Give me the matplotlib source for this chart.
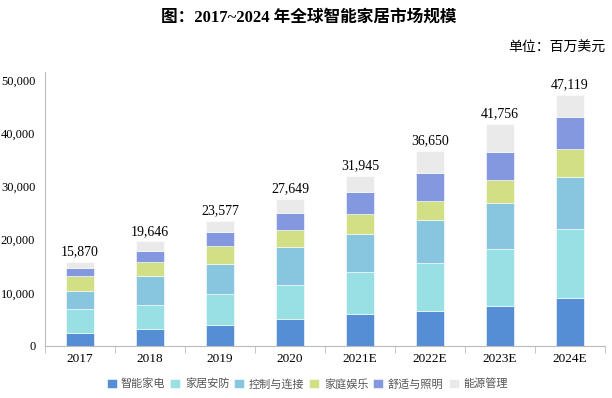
import numpy as np
import matplotlib.pyplot as plt

plt.rcParams['font.family'] = ['Liberation Serif', 'Noto Sans CJK SC']

years = ['2017', '2018', '2019', '2020', '2021E', '2022E', '2023E', '2024E']
totals = [15870, 19646, 23577, 27649, 31945, 36650, 41756, 47119]

appliance = [2400, 3260, 4010, 5010, 6020, 6580, 7520, 8960]
security = [4500, 4450, 5760, 6460, 7950, 9020, 10710, 13030]
control = [3450, 5450, 5580, 7140, 7020, 8080, 8710, 9840]
entertain = [2820, 2570, 3510, 3130, 3760, 3580, 4200, 5140]
comfort = [1560, 2190, 2510, 3320, 4200, 5200, 5330, 6140]
energy = [t - (a + b + c + d + e) for t, a, b, c, d, e in
          zip(totals, appliance, security, control, entertain, comfort)]

names = ['智能家电', '家居安防', '控制与连接', '家庭娱乐', '舒适与照明', '能源管理']
colors = ['#558ED5', '#98E0E3', '#88C6E0', '#D3DF85', '#8498E0', '#EAEAEA']
series = [appliance, security, control, entertain, comfort, energy]

fig = plt.figure(figsize=(6.12, 3.98), dpi=100)
ax = fig.add_axes([45 / 612, 52 / 398, 560 / 612, 274 / 398])

x = np.arange(len(years))
bottom = np.zeros(len(years))
for vals, name, col in zip(series, names, colors):
    ax.bar(x, vals, 0.41, bottom=bottom, color=col, label=name,
           edgecolor='white', linewidth=0.4)
    bottom += np.array(vals)

for xi, t in zip(x, totals):
    ax.text(xi, t + 700, f'{t:,}', ha='center', va='bottom', fontsize=10)

ax.set_xlim(-0.5, len(years) - 0.5)
ax.set_ylim(0, 51500)
ax.set_yticks(range(0, 50001, 10000))
ax.set_yticklabels([f'{v:,}' for v in range(0, 50001, 10000)], fontsize=9)
ax.set_xticks(x)
ax.set_xticklabels(years, fontsize=9.5)
ax.set_xticks(np.arange(-0.5, len(years), 1), minor=True)
ax.tick_params(axis='x', which='major', length=0, pad=5)
ax.tick_params(axis='x', which='minor', length=5, direction='out', color='#BBBBBB')
ax.tick_params(axis='y', length=0, pad=7)

for s in ['top', 'right']:
    ax.spines[s].set_visible(False)
for s in ['left', 'bottom']:
    ax.spines[s].set_color('#BBBBBB')

fig.text(0.505, 0.955, '图：2017~2024 年全球智能家居市场规模', ha='center', va='center',
         fontsize=12, fontweight='bold', family=['Liberation Serif', 'Noto Sans CJK SC'])
fig.text(605 / 612, 1 - 48 / 398, '单位：百万美元', ha='right', va='center', fontsize=10,
         family=['Noto Sans CJK SC'])

leg = fig.legend(loc='center', bbox_to_anchor=(307 / 612, 1 - 384 / 398), ncol=6,
                 frameon=False, handlelength=0.9, handleheight=0.9,
                 handletextpad=0.4, columnspacing=0.45, prop={'family': 'Noto Sans CJK SC', 'size': 8})
for t in leg.get_texts():
    t.set_color('#555555')

fig.savefig('out.png', dpi=100)
